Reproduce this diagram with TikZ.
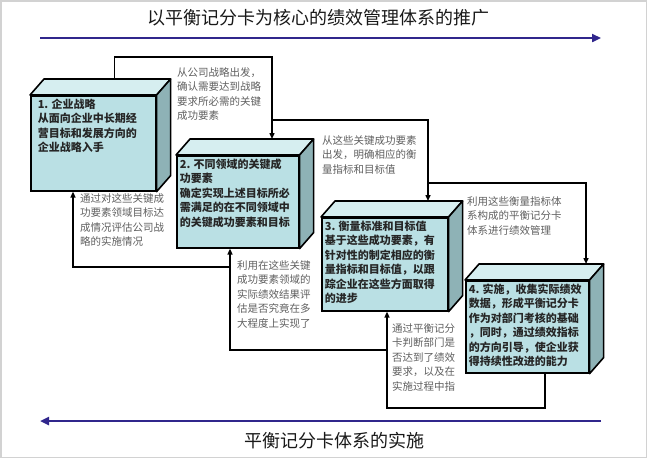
\documentclass[tikz,border=0pt]{standalone}
\usepackage{fontspec}
\setmainfont{Noto Sans CJK SC}
\usetikzlibrary{arrows.meta,calc}
\definecolor{boxfront}{RGB}{186,224,228}
\definecolor{boxtop}{RGB}{214,238,240}
\definecolor{boxside}{RGB}{142,178,182}
\definecolor{flowblue}{RGB}{48,38,140}
\definecolor{notegray}{RGB}{95,95,95}

\begin{document}
\begin{tikzpicture}[x=1pt,y=-1pt,
    front/.style={draw=black,line width=1.6pt,fill=boxfront,inner sep=3pt,anchor=north west,
      font=\bfseries\fontsize{11}{14.5}\selectfont,text=black!85},
    topface/.style={draw=black,line width=1.6pt,fill=boxtop,line join=round},
    sideface/.style={draw=black,line width=1.6pt,fill=boxside,line join=round},
    link/.style={draw=black,line width=1.4pt,-{Triangle[length=6pt,width=5pt]}},
    note/.style={anchor=north west,align=left,text=notegray,inner sep=0pt,
      font=\fontsize{10.5}{14.5}\selectfont},
    flow/.style={draw=flowblue,line width=2.6pt,-{Triangle[length=9pt,width=8pt]}},
    heading/.style={font=\fontsize{18}{20}\selectfont,text=black!90}]
  \useasboundingbox (0,0) rectangle (647,458);
  \draw[gray!35,line width=1.5pt] (0.75,0.75) rectangle (646.25,457.25);

  \node[heading] (title) at (318,18) {以平衡记分卡为核心的绩效管理体系的推广};
  \coordinate (p1) at (40,38);
  \coordinate (p2) at (601,38);
  \draw[flow] (p1) -- (p2);

  \node[front] (b1) at (30,95) {\parbox[c][89pt][t]{119pt}{\hspace*{4pt}1. 企业战略\\\hspace*{4pt}从面向企业中长期经\\\hspace*{4pt}营目标和发展方向的\\\hspace*{4pt}企业战略入手}};
  \node[front] (b2) at (176,155) {\parbox[c][86pt][t]{116pt}{2. 不同领域的关键成\\功要素\\确定实现上述目标所必\\需满足的在不同领域中\\的关键成功要素和目标}};
  \node[front] (b3) at (321,217) {\parbox[c][87pt][t]{120pt}{3. 衡量标准和目标值\\基于这些成功要素，有\\针对性的制定相应的衡\\量指标和目标值，以跟\\踪企业在这些方面取得\\的进步}};
  \node[front] (b4) at (465,280) {\parbox[c][86pt][t]{117pt}{4. 实施，收集实际绩效\\数据，形成平衡记分卡\\作为对部门考核的基础\\，同时，通过绩效指标\\的方向引导，使企业获\\得持续性改进的能力}};

  \foreach \b in {b1,b2,b3,b4} {
    \draw[topface] (\b.north west) -- ++(14,-16) -- ([shift={(14,-16)}]\b.north east) -- (\b.north east) -- cycle;
    \draw[sideface] (\b.north east) -- ++(14,-16) -- ([shift={(14,-16)}]\b.south east) -- (\b.south east) -- cycle;
    \coordinate (\b-back) at ([shift={(14,-16)}]\b.north);
  }

  \coordinate (t1) at (272,57);
  \coordinate (t2) at (428,120);
  \coordinate (t3) at (586,183);
  \draw[link] ([xshift=7pt]b1-back) |- (t1) -- (t1 |- b2-back);
  \draw[link] (t1 |- t2) -- (t2) -- (t2 |- b3-back);
  \draw[link] (t2 |- t3) -- (t3) -- (t3 |- b4-back);

  \coordinate (u1) at (545,408);
  \coordinate (u2) at (387,408);
  \coordinate (u3) at (230,350);
  \coordinate (u4) at (73,267);
  \draw[link] (u1 |- b4.south) -- (u1) -- (u2) -- (u2 |- b3.south);
  \draw[link] (u2 |- u3) -- (u3) -- (u3 |- b2.south);
  \draw[link] (u3 |- u4) -- (u4) -- (u4 |- b1.south);

  \node[note] (n1) at (177,67) {从公司战略出发，\\确认需要达到战略\\要求所必需的关键\\成功要素};
  \node[note] (n2) at (322,135) {从这些关键成功要素\\出发，明确相应的衡\\量指标和目标值};
  \node[note] (n3) at (467,196) {利用这些衡量指标体\\系构成的平衡记分卡\\体系进行绩效管理};
  \node[note] (n4) at (80,193) {通过对这些关键成\\功要素领域目标达\\成情况评估公司战\\略的实施情况};
  \node[note] (n5) at (237,260) {利用在这些关键\\成功要素领域的\\实际绩效结果评\\估是否究竟在多\\大程度上实现了};
  \node[note] (n6) at (392,323) {通过平衡记分\\卡判断部门是\\否达到了绩效\\要求，以及在\\实施过程中指};

  \coordinate (q1) at (601,421);
  \coordinate (q2) at (40,421);
  \draw[flow] (q1) -- (q2);
  \node[heading] (footer) at (334,441) {平衡记分卡体系的实施};
\end{tikzpicture}
\end{document}
